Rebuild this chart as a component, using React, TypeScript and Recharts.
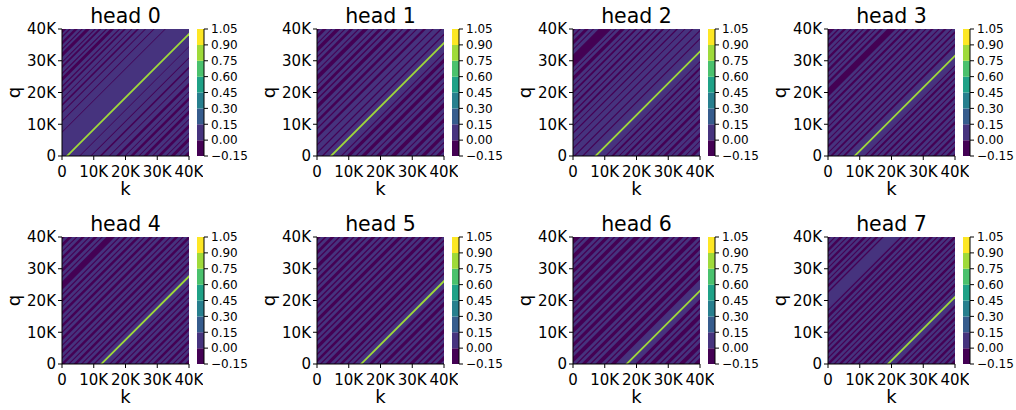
import React from 'react';
import { ComposedChart, Area, XAxis, YAxis } from 'recharts';

// panel titles
const heads = ['head 0', 'head 1', 'head 2', 'head 3', 'head 4', 'head 5', 'head 6', 'head 7'];

// axis ticks (k and q share them)
const axisTicks = [0, 10000, 20000, 30000, 40000];
const axisTickLabels = ['0', '10K', '20K', '30K', '40K'];

// colorbar contour levels and viridis level colours
const levelBounds = [-0.15, 0, 0.15, 0.3, 0.45, 0.6, 0.75, 0.9, 1.05];
const levelColors = ['#440154', '#46337e', '#365c8d', '#277f8e', '#1fa187', '#4ac16d', '#9fda3a', '#fde725'];

// lag (k - q, in K) of the bright diagonal for each head
const peakLags = [1.6, 4.4, 7.1, 8.4, 12.4, 13.9, 16.9, 18.9];

// lag ranges (k - q, in K) that fall in the lowest level (-0.15..0), per head
const darkBands0 = [[-40,-38.6],[-37.8,-37.2],[-36.1,-35],[-33.9,-33.4],[-32.5,-31.1],[-29.8,-29.3],[-28.4,-27.6],[-26.2,-25.7],[-24.8,-23.5],[-22.1,-21.6],[-20.5,-19.8],[-18.2,-17.8],[-16.4,-15.7],[-13.9,-13.5],[-11.2,-10.8],[-7.6,-7.3],[5.4,5.7],[8.9,9.3],[11.8,12.5],[14.7,15.1],[16.9,18],[19.6,20],[21.4,22.5],[24,24.4],[25.6,26.8],[28.3,28.7],[30,31.2],[32.6,33],[34.1,35.4],[36.8,37.2],[38.4,40]];
const darkBands1 = [[-40,-39.1],[-38.2,-36.9],[-35.6,-35.1],[-34.2,-32.6],[-31.4,-30.9],[-29.7,-28.5],[-27.1,-26.6],[-25.5,-23.8],[-22.4,-21.9],[-20.6,-19.4],[-18.1,-17.5],[-16.2,-14.7],[-13.3,-12.8],[-11.4,-10.3],[-8.8,-8.3],[-6.6,-5.6],[-3.7,-3.2],[-1.2,-0.6],[1.4,2],[7.4,7.9],[9.2,10.6],[12,12.5],[13.8,15.3],[16.7,17.2],[18.5,19.9],[21.3,21.8],[23.1,24.8],[26.2,26.7],[28,29.4],[30.8,31.3],[32.6,34.1],[35.5,36],[37.3,38.6],[39.5,40]];
const darkBands2 = [[-40,-39.2],[-38.1,-37.5],[-36.3,-35],[-33.8,-33.3],[-31.9,-27.9],[-26.7,-26.2],[-25.1,-23.6],[-22.3,-21.8],[-20.5,-19.7],[-18.2,-17.7],[-16.3,-15.4],[-13.9,-13.4],[-12,-11.2],[-9.6,-9.2],[-7.5,-6.9],[-4.9,-4.5],[-2.6,-2.1],[0.2,0.7],[2.8,3.3],[10.1,10.5],[12,12.8],[14.3,14.7],[16,16.9],[18.3,18.7],[20,21],[22.4,22.8],[24.1,25.2],[26.6,27],[28.3,29.4],[30.8,31.2],[32.6,33.8],[35.1,35.5],[36.9,38.1],[39.4,40]];
const darkBands3 = [[-40,-37.9],[-36.9,-36.3],[-35.2,-34.2],[-33,-32.5],[-31.3,-30.3],[-29.1,-28.6],[-27.5,-26.4],[-25.2,-24.7],[-23.6,-22.6],[-21.3,-18.6],[-17.4,-16.9],[-15.7,-14.7],[-13.4,-12.9],[-11.7,-10.7],[-9.4,-8.9],[-7.6,-6.7],[-5.3,-4.8],[-3.5,-2.6],[-1.2,-0.7],[0.6,1.4],[2.8,3.3],[4.6,5.4],[11.4,11.9],[13.1,14],[15.3,15.8],[17.1,18],[19.3,19.8],[21,22],[23.3,23.8],[25.1,26],[27.3,27.8],[29,30],[31.3,31.8],[33,34],[35.3,35.8],[37,38],[39.2,40]];
const darkBands4 = [[-40,-39.1],[-38,-36.8],[-35.6,-35.1],[-33.9,-32.8],[-31.6,-31.1],[-30,-28.8],[-27.6,-27.1],[-26,-23.3],[-22.1,-21.6],[-20.4,-19.4],[-18.2,-17.7],[-16.5,-15.4],[-14.2,-13.7],[-12.5,-11.4],[-10.2,-9.7],[-8.5,-7.3],[-6.1,-5.6],[-4.4,-3.3],[-2.1,-1.6],[-0.4,0.7],[1.9,2.4],[3.6,4.7],[5.9,6.4],[7.6,8.6],[9.8,10.4],[14.8,15.3],[16.5,17.6],[18.8,19.3],[20.5,21.6],[22.8,23.3],[24.5,25.5],[26.7,27.2],[28.4,29.5],[30.7,31.2],[32.4,33.5],[34.7,35.2],[36.4,37.4],[38.6,40]];
const darkBands5 = [[-40,-38.8],[-37.6,-36.9],[-35.7,-34.4],[-33.2,-32.6],[-31.4,-29.9],[-28.7,-28.1],[-26.9,-25.8],[-24.6,-24],[-22.8,-21.5],[-20.3,-19.7],[-18.5,-17.4],[-16.2,-15.6],[-14.4,-13],[-11.8,-11.2],[-10,-8.9],[-7.7,-7.1],[-5.9,-4.5],[-3.3,-2.7],[-1.5,-0.4],[0.8,1.4],[2.6,4],[5.2,5.8],[7,8.1],[9.3,9.9],[11.1,11.8],[16.3,17.4],[18.6,19.2],[20.4,21.8],[23,23.6],[24.8,25.9],[27.1,27.7],[28.9,30.3],[31.5,32.1],[33.3,34.4],[35.6,36.2],[37.4,38.8],[39.6,40]];
const darkBands6 = [[-40,-37.6],[-36.4,-35.8],[-34.6,-32.8],[-31.6,-31],[-29.8,-28.4],[-27.2,-26.6],[-25.4,-23.8],[-22.6,-22],[-20.8,-18.8],[-17.6,-17],[-15.8,-14.4],[-13.2,-12.6],[-11.4,-9.6],[-8.4,-7.8],[-6.6,-5.2],[-4,-3.4],[-2.2,-0.4],[0.8,1.4],[2.6,4],[5.2,5.8],[7,8.8],[10,10.6],[11.8,13.4],[19.6,21],[22.2,22.8],[24,25.8],[27,27.6],[28.8,30.2],[31.4,32],[33.2,35],[36.2,36.8],[38,40]];
const darkBands7 = [[-40,-39.1],[-38,-37.5],[-36.4,-35.3],[-34.2,-33.7],[-32.6,-31.6],[-30.5,-30],[-28.9,-27.8],[-26.7,-26.2],[-25.1,-24.1],[-23,-22.4],[-17.2,-16.6],[-15.5,-14.4],[-13.3,-12.8],[-11.7,-10.7],[-9.6,-9.1],[-8,-6.9],[-5.8,-5.3],[-4.2,-3.2],[-2.1,-1.6],[-0.5,0.6],[1.7,2.2],[3.3,4.3],[5.4,5.9],[7,8.1],[9.2,9.7],[10.8,11.8],[12.9,13.4],[14.5,15.6],[16.7,17.2],[21.4,22.4],[23.5,24],[25.1,26.2],[27.3,27.8],[28.9,29.9],[31,31.5],[32.6,33.7],[34.8,35.3],[36.4,37.4],[38.5,40]];
const darkBands = [darkBands0, darkBands1, darkBands2, darkBands3, darkBands4, darkBands5, darkBands6, darkBands7];

// the two ends of every diagonal band
const kRows = [{ k: 0 }, { k: 40000 }];
const cbRows = [{ x: 0 }, { x: 1 }];

const FONT = 'DejaVu Sans';
const colLefts = [62, 317, 573, 828];
const rowTops = [29, 237];
const PLOT = 127;

const fmtAxis = (v: number) => axisTickLabels[axisTicks.indexOf(v)];
const fmtLevel = (v: number) => v.toFixed(2).replace('-', '\u2212');

const bandKey = (lo: number, hi: number) => (r: { k: number }) => [r.k - hi * 1000, r.k - lo * 1000];

function HeadPanel({ idx, left, top }: { idx: number; left: number; top: number }) {
  const peak = peakLags[idx];
  return (
    <div style={{ position: 'absolute', left: left - 60, top: top - 10 }}>
      <ComposedChart width={60 + PLOT + 14} height={10 + PLOT + 40} data={kRows} margin={{ top: 10, right: 14, bottom: 0, left: 0 }}>
        <XAxis
          type="number"
          dataKey="k"
          domain={[0, 40000]}
          allowDataOverflow
          ticks={axisTicks}
          interval={0}
          tickFormatter={fmtAxis}
          height={40}
          tickSize={4}
          tickMargin={6}
          axisLine={{ stroke: '#000' }}
          tickLine={{ stroke: '#000' }}
          tick={{ fontSize: 15, fill: '#000', fontFamily: FONT }}
        />
        <XAxis xAxisId="top" orientation="top" type="number" domain={[0, 40000]} height={0} tick={false} tickLine={false} axisLine={{ stroke: '#000' }} />
        <YAxis
          type="number"
          domain={[0, 40000]}
          allowDataOverflow
          ticks={axisTicks}
          interval={0}
          tickFormatter={fmtAxis}
          width={60}
          tickSize={4}
          tickMargin={2}
          axisLine={{ stroke: '#000' }}
          tickLine={{ stroke: '#000' }}
          tick={{ fontSize: 15, fill: '#000', fontFamily: FONT }}
        />
        <YAxis yAxisId="right" orientation="right" type="number" domain={[0, 40000]} width={0} tick={false} tickLine={false} axisLine={{ stroke: '#000' }} />
        <Area type="linear" dataKey={bandKey(-40, 40)} fill={levelColors[1]} fillOpacity={1} stroke="none" dot={false} activeDot={false} isAnimationActive={false} />
        {darkBands[idx].map(([lo, hi], i) => (
          <Area key={i} type="linear" dataKey={bandKey(lo, hi)} fill={levelColors[0]} fillOpacity={1} stroke="none" dot={false} activeDot={false} isAnimationActive={false} />
        ))}
        <Area type="linear" dataKey={bandKey(peak - 0.4, peak + 0.4)} fill={levelColors[6]} fillOpacity={1} stroke="none" dot={false} activeDot={false} isAnimationActive={false} />
      </ComposedChart>
    </div>
  );
}

function ColorBar({ left, top }: { left: number; top: number }) {
  return (
    <div style={{ position: 'absolute', left, top: top - 10 }}>
      <ComposedChart width={7 + 55} height={PLOT + 20} data={cbRows} margin={{ top: 10, right: 0, bottom: 10, left: 0 }}>
        <XAxis type="number" dataKey="x" domain={[0, 1]} height={0} tick={false} tickLine={false} axisLine={{ stroke: '#000' }} />
        <XAxis xAxisId="top" orientation="top" type="number" domain={[0, 1]} height={0} tick={false} tickLine={false} axisLine={{ stroke: '#000' }} />
        <YAxis yAxisId="left" type="number" domain={[-0.15, 1.05]} width={0} tick={false} tickLine={false} axisLine={{ stroke: '#000' }} />
        <YAxis
          orientation="right"
          type="number"
          domain={[-0.15, 1.05]}
          allowDataOverflow
          ticks={levelBounds}
          interval={0}
          tickFormatter={fmtLevel}
          width={55}
          tickSize={4}
          tickMargin={3}
          axisLine={{ stroke: '#000' }}
          tickLine={{ stroke: '#000' }}
          tick={{ fontSize: 12, fill: '#000', fontFamily: FONT }}
        />
        {levelColors.map((c, i) => (
          <Area
            key={i}
            type="linear"
            dataKey={() => [levelBounds[i], levelBounds[i + 1]]}
            fill={c}
            fillOpacity={1}
            stroke="none"
            dot={false}
            activeDot={false}
            isAnimationActive={false}
          />
        ))}
      </ComposedChart>
    </div>
  );
}

export default function App() {
  return (
    <div style={{ position: 'absolute', left: 0, top: 0, width: 1016, height: 410, background: '#fff', overflow: 'hidden' }}>
      {heads.map((h, i) => {
        const left = colLefts[i % 4];
        const top = rowTops[Math.floor(i / 4)];
        return (
          <React.Fragment key={h}>
            <HeadPanel idx={i} left={left} top={top} />
            <ColorBar left={left + 135} top={top} />
          </React.Fragment>
        );
      })}
      <svg width={1016} height={410} style={{ position: 'absolute', left: 0, top: 0, pointerEvents: 'none' }} fontFamily={FONT}>
        {heads.map((h, i) => {
          const left = colLefts[i % 4];
          const top = rowTops[Math.floor(i / 4)];
          const cx = left + PLOT / 2;
          const cy = top + PLOT / 2;
          return (
            <g key={h}>
              <text x={cx} y={top - 6.5} textAnchor="middle" fontSize={20.5} fill="#000">{h}</text>
              <text x={cx} y={top + PLOT + 39} textAnchor="middle" fontSize={18} fill="#000">k</text>
              <text x={left - 42} y={cy} textAnchor="middle" fontSize={18} fill="#000" transform={`rotate(-90 ${left - 42} ${cy})`}>q</text>
            </g>
          );
        })}
      </svg>
    </div>
  );
}
